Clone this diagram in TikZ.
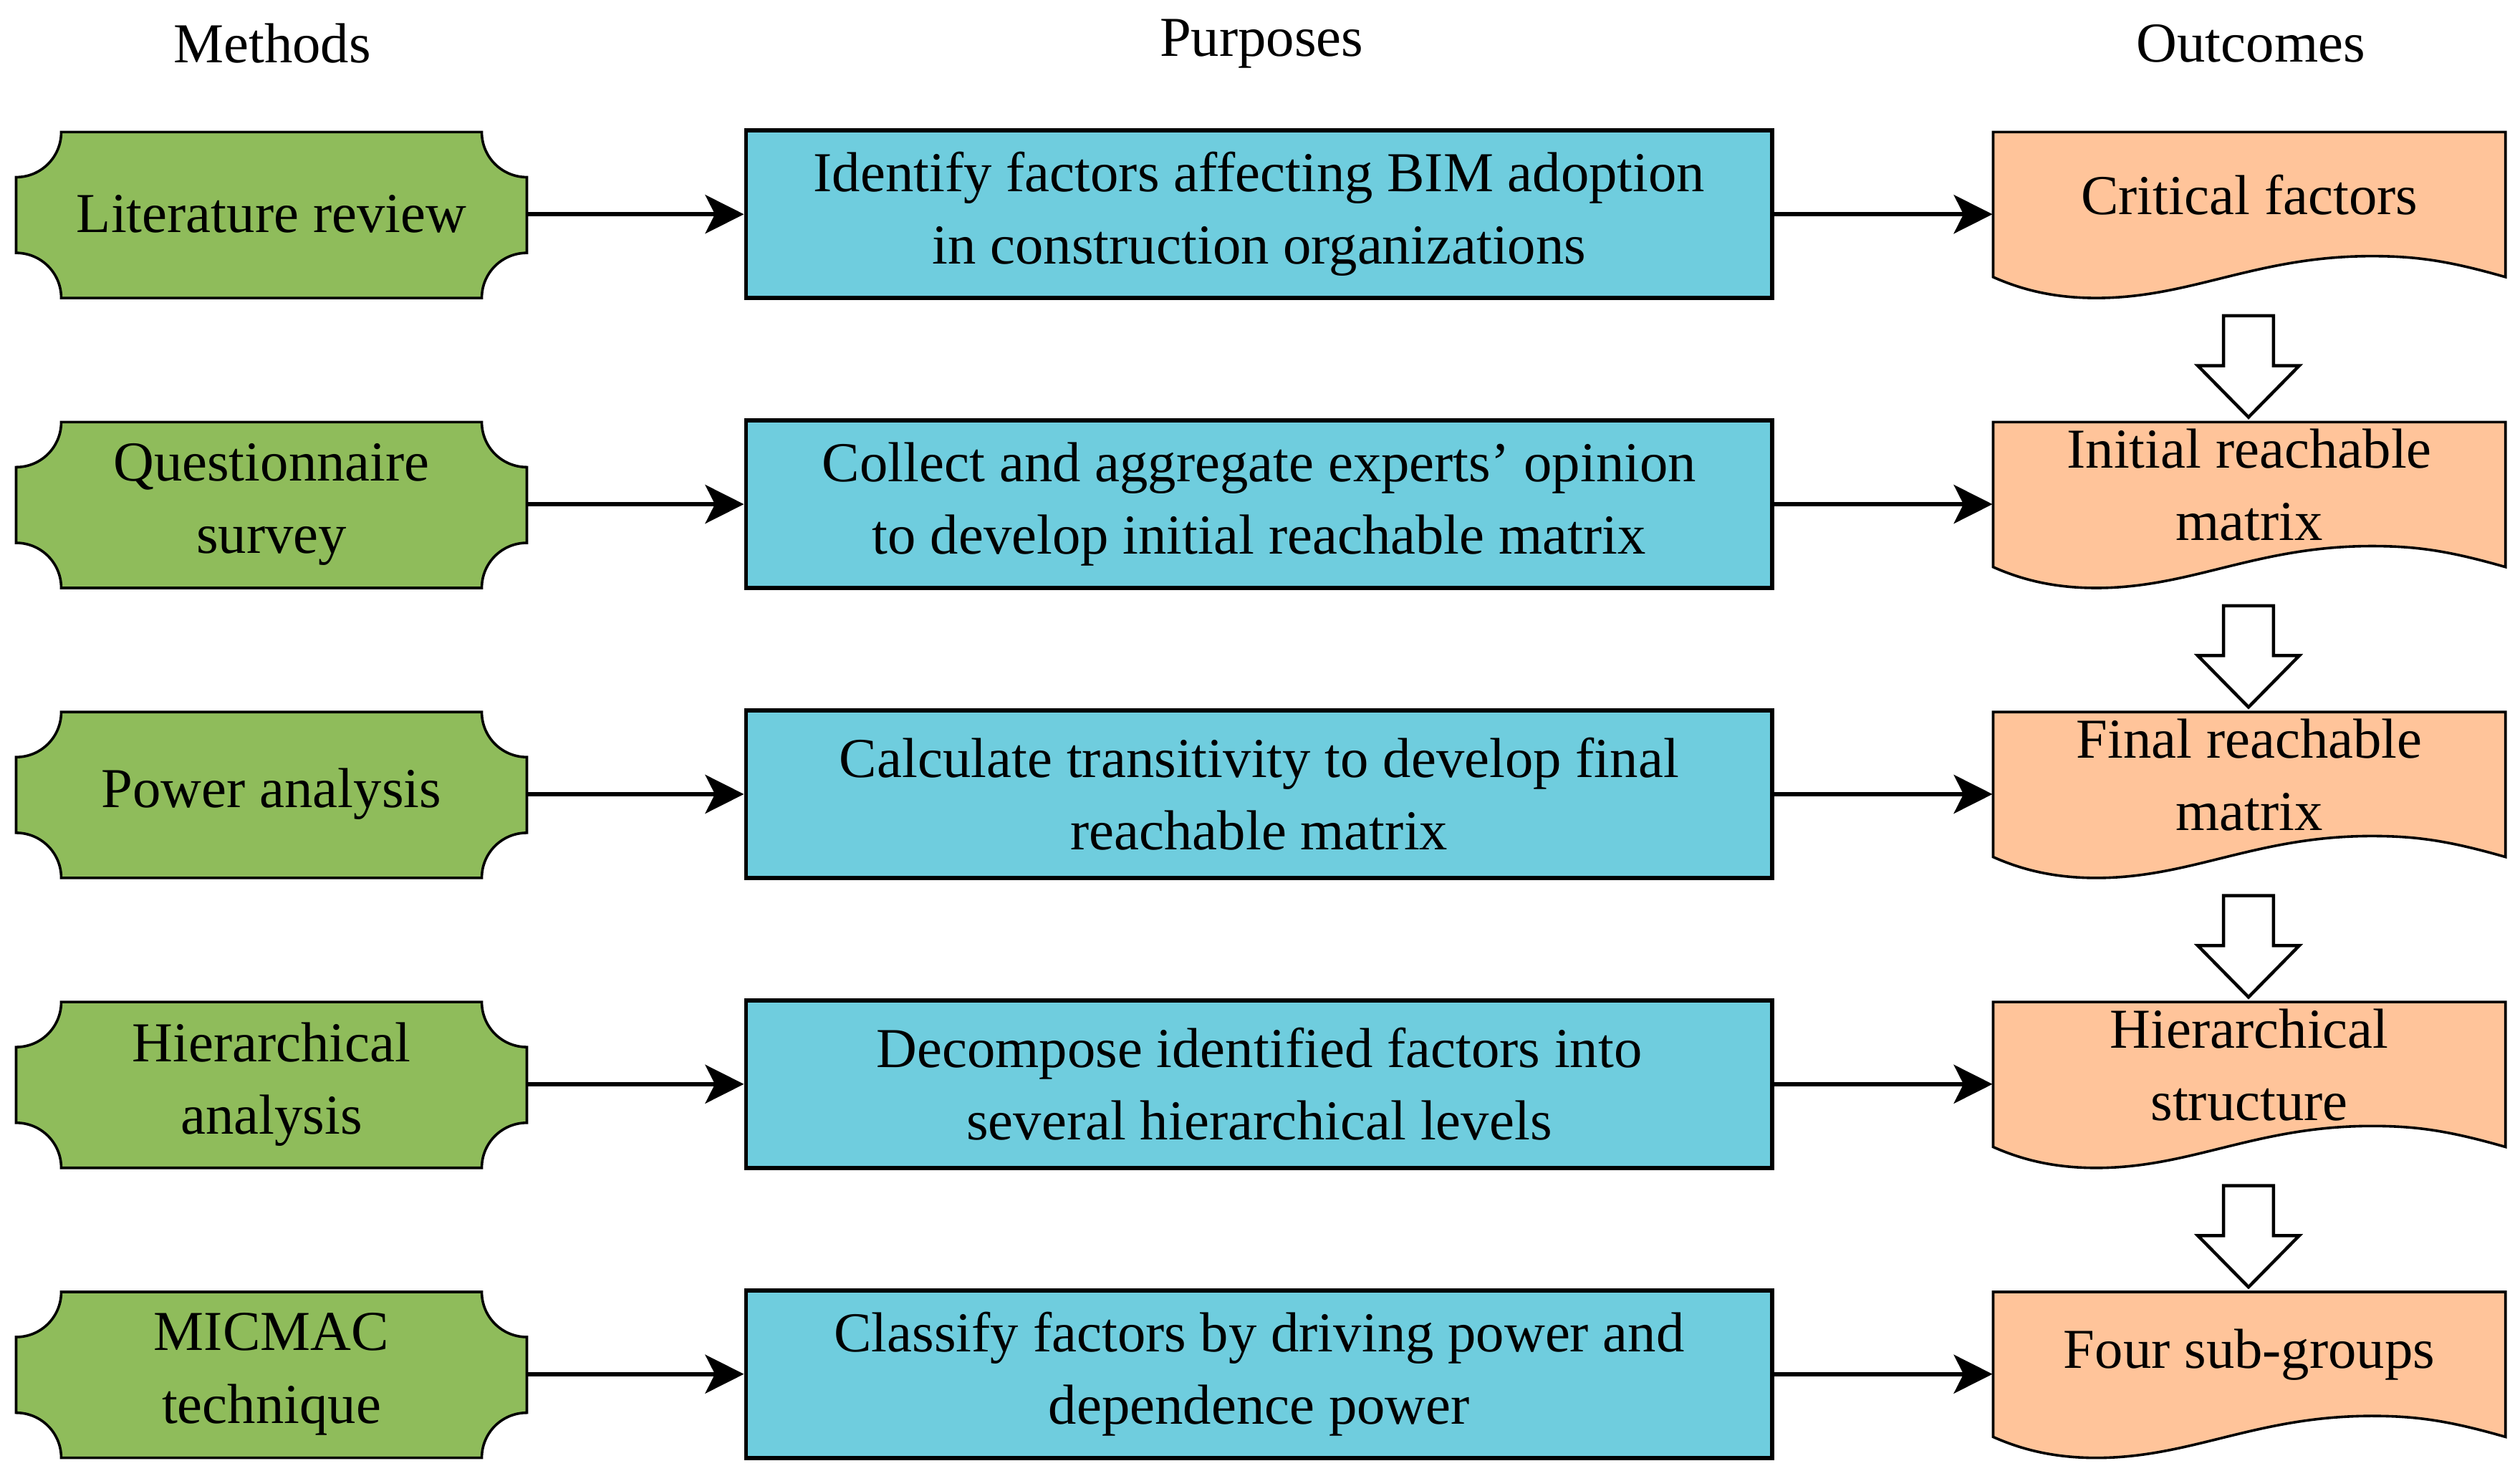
\documentclass[tikz,border=0pt]{standalone}
\usepackage{fontspec}
\setmainfont{Liberation Serif}
\usetikzlibrary{arrows.meta}
\definecolor{mgreen}{HTML}{8FBC5B}
\definecolor{pblue}{HTML}{6FCDDE}
\definecolor{oorange}{HTML}{FFC49A}
\tikzset{
  txt/.style={font=\fontsize{17.5}{22.5}\selectfont,align=center,inner sep=0pt},
  meth/.style={txt,minimum width=158.5pt,minimum height=51.5pt},
  purp/.style={txt,draw=black,line width=1.3pt,fill=pblue,minimum width=318.5pt,minimum height=52pt},
  outc/.style={minimum width=159pt,minimum height=51.5pt,inner sep=0pt},
  shp/.style={draw=black,line width=0.8pt},
  conn/.style={line width=1.3pt,-{Stealth[length=12pt,width=12pt,inset=3pt]}},
  hollow/.style={draw=black,line width=1pt,fill=white}
}
\newcommand\myplaque[1]{%
 \pgfmathsetmacro\tp{#1}\pgfmathsetmacro\bt{#1+103}%
 \draw[shp,fill=mgreen] (38,\tp) -- (299,\tp)
  .. controls (299,{\tp+15.5}) and (311.5,{\tp+28}) .. (327,{\tp+28})
  -- (327,{\bt-28}) .. controls (311.5,{\bt-28}) and (299,{\bt-15.5}) .. (299,\bt)
  -- (38,\bt) .. controls (38,{\bt-15.5}) and (25.5,{\bt-28}) .. (10,{\bt-28})
  -- (10,{\tp+28}) .. controls (25.5,{\tp+28}) and (38,{\tp+15.5}) .. (38,\tp) -- cycle;}
\newcommand\mydoc[1]{%
 \pgfmathsetmacro\tp{#1}%
 \draw[shp,fill=oorange] (1237,\tp) -- (1555,\tp) -- (1555,{\tp+90})
  .. controls (1520,{\tp+80}) and (1500,{\tp+77}) .. (1472,{\tp+77})
  .. controls (1400,{\tp+77}) and (1360,{\tp+103}) .. (1301,{\tp+103})
  .. controls (1275,{\tp+103}) and (1255,{\tp+98}) .. (1237,{\tp+90}) -- cycle;}
\newcommand\mydown[1]{%
 \pgfmathsetmacro\tp{#1}%
 \draw[hollow] (1380,\tp) -- (1411,\tp) -- (1411,{\tp+31}) -- (1427,{\tp+31}) -- (1395.5,{\tp+63})
  -- (1364,{\tp+31}) -- (1380,{\tp+31}) -- cycle;}
\begin{document}
\begin{tikzpicture}[x=0.5pt,y=-0.5pt]
\useasboundingbox (0,0) rectangle (1564,919);
\node[txt] (h1) at (169,27) {Methods};
\node[txt] (h2) at (783,27) {Purposes};
\node[txt] (h3) at (1397,27) {Outcomes};
\foreach \k in {0,...,4}{
  \myplaque{82+180*\k}
  \mydoc{82+180*\k}
}
\foreach \k in {0,...,3}{\mydown{196+180*\k}}
\foreach \k/\m/\p/\o in {
 1/Literature review/{Identify factors affecting BIM adoption\\in construction organizations}/Critical factors,
 2/{Questionnaire\\survey}/{Collect and aggregate experts' opinion\\to develop initial reachable matrix}/{Initial reachable\\matrix},
 3/Power analysis/{Calculate transitivity to develop final\\reachable matrix}/{Final reachable\\matrix},
 4/{Hierarchical\\analysis}/{Decompose identified factors into\\several hierarchical levels}/{Hierarchical\\structure},
 5/{MICMAC\\technique}/{Classify factors by driving power and\\dependence power}/Four sub-groups}{
  \pgfmathsetmacro\cy{133+180*(\k-1)}
  \node[meth] (m\k) at (168.5,\cy) {\m};
  \node[purp] (p\k) at (781.5,\cy) {\p};
  \node[outc] (o\k) at (1396,\cy) {};
  \node[txt] (ot\k) at (1396,{\cy-12}) {\o};
  \draw[conn] (m\k) -- (p\k);
  \draw[conn] (p\k) -- (o\k);
}
\end{tikzpicture}
\end{document}
